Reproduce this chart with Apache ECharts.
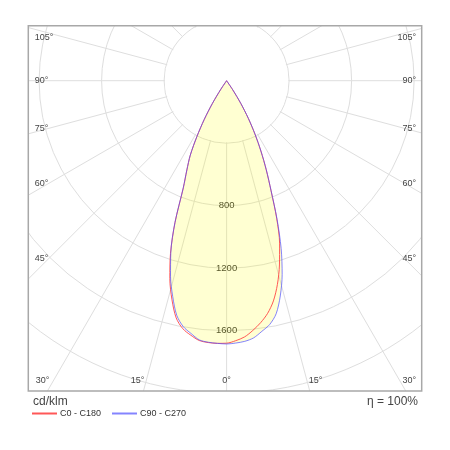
<!DOCTYPE html>
<html><head><meta charset="utf-8">
<script src="https://cdn.jsdelivr.net/npm/echarts@6/dist/echarts.min.js"></script>
<style>html,body{margin:0;padding:0;background:#fff}#c{width:450px;height:450px}</style>
</head><body><div id="c"></div>
<script>
// gamma angles (deg from nadir) and luminous intensity (cd/klm)
const gammaAngles = [0, 2, 4, 6, 8, 10, 12, 14, 16, 18, 20, 22, 24, 26, 28, 30, 32, 34, 36];
const c0   = [1680, 1665, 1644, 1607, 1564, 1512, 1441, 1344, 1227, 1098, 937, 760, 624, 501, 386, 278, 171, 70, 0];
const c180 = [1682, 1682, 1680, 1672, 1645, 1612, 1552, 1445, 1318, 1162, 966, 740, 625, 530, 405, 285, 170, 65, 0];
const c90  = [1685, 1680, 1672, 1655, 1620, 1585, 1525, 1420, 1290, 1130, 945, 760, 624, 501, 386, 278, 171, 70, 0];
const c270 = [1682, 1682, 1678, 1668, 1634, 1598, 1535, 1425, 1302, 1155, 966, 740, 625, 530, 405, 285, 170, 65, 0];
const radialTickLabels = [800, 1200, 1600];
const sideAngleLabels = [105, 90, 75, 60, 45];
const bottomAngleLabels = [30, 15, 0, 15, 30];
const seriesNames = ['C0 - C180', 'C90 - C270'];
const unitLabel = 'cd/klm';
const efficiencyLabel = 'η = 100%';

const FONT = '"Liberation Sans", Arial, sans-serif';
const cx = 226.6, cy = 80.7;
const frame = {x: 28.3, y: 25.7, w: 393.4, h: 365.3};

function planeData(rightVals, leftVals) {
  const pts = [];
  for (let i = gammaAngles.length - 1; i >= 1; i--) pts.push([leftVals[i], 360 - gammaAngles[i]]);
  for (let i = 0; i < gammaAngles.length; i++) pts.push([rightVals[i], gammaAngles[i]]);
  return pts;
}

const graphics = [];
// white masks outside frame
graphics.push({type:'rect', shape:{x:0,y:0,width:450,height:frame.y}, style:{fill:'#fff'}, z:5, silent:true});
graphics.push({type:'rect', shape:{x:0,y:frame.y+frame.h,width:450,height:450}, style:{fill:'#fff'}, z:5, silent:true});
graphics.push({type:'rect', shape:{x:0,y:0,width:frame.x,height:450}, style:{fill:'#fff'}, z:5, silent:true});
graphics.push({type:'rect', shape:{x:frame.x+frame.w,y:0,width:100,height:450}, style:{fill:'#fff'}, z:5, silent:true});
// inner disk (spokes start at first circle)
graphics.push({type:'circle', shape:{cx:cx, cy:cy, r:61.6}, style:{fill:'#fff'}, z:1, silent:true});
// frame
graphics.push({type:'rect', shape:{x:frame.x,y:frame.y,width:frame.w,height:frame.h}, style:{fill:null, stroke:'#a8a8a8', lineWidth:1.5}, z:6, silent:true});

function txt(x, y, text, align, size, color) {
  return {type:'text', x:x, y:y, z:8, silent:true,
    style:{text:text, fontSize:size, fontFamily:FONT, fill:color, align:align, textAlign:align, verticalAlign:'middle', textVerticalAlign:'middle'}};
}
sideAngleLabels.forEach(a => {
  const r = a * Math.PI / 180;
  let y = cy + 178 * Math.cos(r) / Math.sin(r);
  y = Math.max(y, frame.y + 12);
  graphics.push(txt(frame.x + 6.5, y, a + '°', 'left', 9, '#444'));
  graphics.push(txt(frame.x + frame.w - 5.5, y, a + '°', 'right', 9, '#444'));
});
const by = frame.y + frame.h - 10;
bottomAngleLabels.forEach((a, i) => {
  const side = i < 2 ? -1 : (i > 2 ? 1 : 0);
  if (a === 0) graphics.push(txt(cx, by, a + '°', 'center', 9, '#444'));
  else if (a === 15) graphics.push(txt(cx + side * 89, by, a + '°', 'center', 9, '#444'));
  else if (side < 0) graphics.push(txt(frame.x + 7.5, by, a + '°', 'left', 9, '#444'));
  else graphics.push(txt(frame.x + frame.w - 5.5, by, a + '°', 'right', 9, '#444'));
});
graphics.push(txt(33, 402, unitLabel, 'left', 12, '#444'));
graphics.push(txt(418, 402, efficiencyLabel, 'right', 12, '#444'));

const chart = echarts.init(document.getElementById('c'), null, {renderer:'canvas'});
chart.setOption({
  animation: false,
  backgroundColor: '#fff',
  polar: {center: [cx, cy], radius: 375},
  angleAxis: {
    type: 'value', min: 0, max: 360, interval: 15, startAngle: 270, clockwise: false, z: 0,
    axisLine: {show: false}, axisTick: {show: false}, axisLabel: {show: false},
    splitLine: {show: true, lineStyle: {color: '#dedede', width: 1}}
  },
  radiusAxis: {
    type: 'value', min: 0, max: 2400, interval: 400, z: 0,
    axisLine: {show: false}, axisTick: {show: false},
    axisLabel: {
      formatter: v => radialTickLabels.indexOf(v) >= 0 ? String(v) : '',
      margin: 0, align: 'center', verticalAlign: 'middle',
      fontSize: 9.5, color: '#333', fontFamily: FONT
    },
    splitLine: {show: true, lineStyle: {color: '#dedede', width: 1}}
  },
  legend: {
    data: seriesNames,
    itemStyle: {opacity: 0},
    left: 31, top: 409, padding: 0, itemWidth: 25, itemHeight: 8, itemGap: 10, z: 10,
    textStyle: {fontSize: 9, color: '#333', fontFamily: FONT, padding: [0, 0, 0, -2]}
  },
  graphic: graphics,
  series: [
    {type: 'line', coordinateSystem: 'polar', name: 'fill', data: planeData(c90, c270),
      symbol: 'none', smooth: 0.3, silent: true, z: 2,
      lineStyle: {width: 0, opacity: 0}, areaStyle: {color: 'rgba(255,255,0,0.25)'}},
    {type: 'line', coordinateSystem: 'polar', name: seriesNames[0], data: planeData(c0, c180),
      symbol: 'none', smooth: 0.3, z: 3, color: '#ff5a5a',
      lineStyle: {width: 1, color: 'rgba(255,70,70,0.9)'}},
    {type: 'line', coordinateSystem: 'polar', name: seriesNames[1], data: planeData(c90, c270),
      symbol: 'none', smooth: 0.3, z: 3, color: '#6060ff',
      lineStyle: {width: 1, color: 'rgba(80,80,255,0.7)'}}
  ]
});
</script></body></html>
